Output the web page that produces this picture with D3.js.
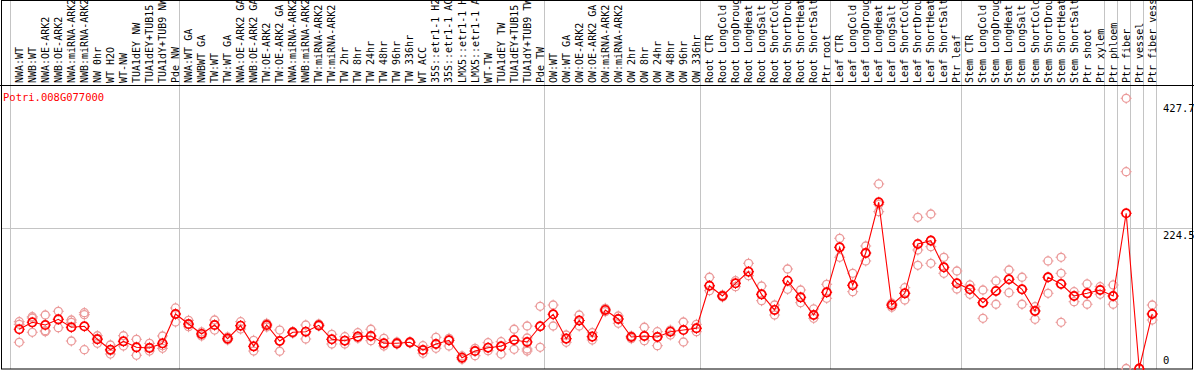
<!DOCTYPE html>
<html>
<head>
<meta charset="utf-8">
<script src="https://cdn.jsdelivr.net/npm/d3@7"></script>
<style>
  body { margin: 0; background: #fff; }
  svg { display: block; }
  text { font-family: "DejaVu Sans Mono", monospace; font-size: 10px; }
</style>
</head>
<body>
<svg id="chart" width="1194" height="370"></svg>
<script>
// sample labels as printed (truncated to 14 chars in the header)
const labels = [
  'NWA:WT', 'NWB:WT', 'NWA:OE-ARK2', 'NWB:OE-ARK2', 'NWA:miRNA-ARK2', 'NWB:miRNA-ARK2',
  'NW 0hr', 'WT H2O', 'WT-NW', 'TUA1dEY NW', 'TUA1dEY+TUB15', 'TUA1dY+TUB9 NW', 'Pde NW',
  'NWA:WT GA', 'NWBWT GA', 'TW:WT', 'TW:WT GA', 'NWA:OE-ARK2 GA', 'NWB:OE-ARK2 GA',
  'TW:OE-ARK2', 'TW:OE-ARK2 GA', 'NWA:miRNA-ARK2', 'NWB:miRNA-ARK2', 'TW:miRNA-ARK2',
  'TW:miRNA-ARK2', 'TW 2hr', 'TW 8hr', 'TW 24hr', 'TW 48hr', 'TW 96hr', 'TW 336hr',
  'WT ACC', '35S::etr1-1 H2', '35S::etr1-1 AC', 'LMX5::etr1-1 H', 'LMX5::etr1-1 A',
  'WT-TW', 'TUA1dEY TW', 'TUA1dEY+TUB15', 'TUA1dY+TUB9 TW', 'Pde TW',
  'OW:WT', 'OW:WT GA', 'OW:OE-ARK2', 'OW:OE-ARK2 GA', 'OW:miRNA-ARK2', 'OW:miRNA-ARK2',
  'OW 2hr', 'OW 8hr', 'OW 24hr', 'OW 48hr', 'OW 96hr', 'OW 336hr',
  'Root CTR', 'Root LongCold', 'Root LongDroug', 'Root LongHeat', 'Root LongSalt',
  'Root ShortCold', 'Root ShortDrou', 'Root ShortHeat', 'Root ShortSalt', 'Ptr root',
  'Leaf CTR', 'Leaf LongCold', 'Leaf LongDroug', 'Leaf LongHeat', 'Leaf LongSalt',
  'Leaf ShortCold', 'Leaf ShortDrou', 'Leaf ShortHeat', 'Leaf ShortSalt', 'Ptr leaf',
  'Stem CTR', 'Stem LongCold', 'Stem LongDroug', 'Stem LongHeat', 'Stem LongSalt',
  'Stem ShortCold', 'Stem ShortDrou', 'Stem ShortHeat', 'Stem ShortSalt', 'Ptr shoot',
  'Ptr xylem', 'Ptr phloem', 'Ptr fiber', 'Ptr vessel', 'Ptr fiber vess',
];

// number of samples in each experiment block (separated by grey lines)
const groupSizes = [13, 28, 12, 10, 10, 11, 1, 1, 1, 1];

const means = [
  62.6, 73.7, 69.4, 78.5, 65.8, 67.4, 46.6, 30.0, 43.4, 33.8, 32.7, 40.2, 87.0,
  71.0, 55.1, 69.4, 47.6, 68.3, 35.4, 69.4, 43.9, 57.8, 58.7, 68.9, 46.6, 44.4,
  50.8, 51.9, 40.2, 40.2, 41.8, 29.5, 39.1, 45.0, 17.2, 27.9, 33.2, 35.4, 45.5, 42.3, 67.4,
  86.5, 47.6, 76.6, 50.8, 93.4, 79.0, 50.3, 51.9, 50.3, 58.7, 61.4, 64.2,
  132.1, 115.7, 136.0, 154.5, 118.4, 93.4, 140.1, 113.6, 85.4, 121.6,
  193.4, 132.8, 184.3, 265.3, 101.3, 120.0, 198.7, 204.0, 161.5, 136.0,
  126.4, 105.0, 123.7, 142.4, 126.4, 91.8, 145.6, 134.9, 115.7, 120.0, 125.3,
  115.7, 247.7, 0, 87.0,
];

const replicates = [
  [74.7, 70.5, 41.8], [82.7, 80.6, 57.8], [85.4, 60.3, 58.7], [91.3, 78.5, 65.1],
  [77.4, 73.7, 43.9], [89.1, 85.9, 30.0], [52.3, 48.2, 40.2], [37.5, 28.4, 23.1],
  [52.3, 43.4, 35.9], [46.6, 33.8, 21.1], [40.2, 33.8, 27.9], [51.9, 36.4, 32.2],
  [96.6, 87.0, 74.2],
  [76.9, 69.9, 66.7], [58.3, 55.1, 51.9], [77.4, 69.4, 61.4], [50.3, 47.1, 45.5],
  [74.7, 68.3, 63.0], [45.0, 35.4, 27.9], [72.1, 69.4, 66.2], [61.4, 43.9, 27.5],
  [58.7, 58.3, 56.2], [69.4, 58.7, 47.1], [71.0, 68.9, 67.8], [54.6, 46.6, 39.1],
  [50.8, 44.4, 39.1], [57.1, 50.8, 48.2], [62.6, 51.9, 44.4], [48.2, 40.2, 35.9],
  [42.3, 39.1, 39.3], [42.3, 41.8, 40.7], [36.4, 29.5, 24.3], [49.8, 39.1, 32.2],
  [48.2, 45.0, 35.9], [20.0, 17.2, 14.7], [32.2, 27.9, 20.4], [41.2, 33.2, 28.4],
  [42.8, 35.4, 23.1], [62.6, 45.5, 30.6], [67.8, 48.7, 31.1, 27.9], [99.3, 67.4, 33.8],
  [101.3, 86.5, 67.8], [53.5, 47.6, 41.8], [85.4, 76.6, 67.8], [57.1, 50.8, 45.5],
  [96.1, 93.4, 90.7], [83.8, 79.0, 72.1], [51.9, 50.8, 47.6], [65.8, 51.9, 44.4],
  [58.7, 50.8, 36.4], [61.4, 58.7, 53.5], [74.2, 61.4, 42.3], [70.5, 64.2, 58.7],
  [145.6, 132.1, 124.2], [117.3, 115.7, 114.1], [140.1, 136.0, 130.6], [167.9, 154.5, 148.1],
  [131.7, 118.4, 108.2], [101.3, 93.4, 85.4], [158.8, 140.1, 126.4], [125.3, 113.6, 105.0],
  [95.0, 85.4, 80.1], [134.4, 121.6, 112.0],
  [207.8, 193.4, 177.5], [151.9, 132.8, 122.6], [195.5, 184.3, 171.6], [294.5, 262.0, 250.3],
  [104.1, 101.3, 97.7], [129.0, 120.0, 109.3], [241.3, 198.7, 189.1, 164.7],
  [246.6, 204.0, 194.4, 167.9], [177.5, 161.5, 151.9], [155.6, 136.0, 126.9],
  [133.3, 126.4, 118.4], [125.3, 105.0, 80.1], [139.7, 123.7, 102.5], [157.2, 142.4, 121.0],
  [145.6, 126.4, 102.5], [98.6, 91.8, 78.5], [171.6, 145.6, 120.0], [177.5, 151.9, 134.9, 73.7],
  [122.6, 115.7, 106.6], [134.9, 120.0, 102.5], [130.6, 125.3, 118.4],
  [133.3, 115.7, 102.5], [431.2, 314.1, 0], [0, 0, 0], [101.3, 87.0, 77.4],
];

const yTicks = [0, 224.5, 427.7];
const geneId = 'Potri.008G077000';

const width = 1194;
const headerH = 85;
const plotLeft = 10;
const plotRight = 1156;
const frameRight = 1192.5;
const bottom = 369;

const svg = d3.select('#chart');

const x = d3
  .scaleBand()
  .domain(d3.range(labels.length))
  .range([plotLeft, plotRight]);
const px = (i) => x(i) + x.bandwidth() * 0.71;

const y = d3
  .scaleLinear()
  .domain([0, 427.7])
  .range([368.5, 100.5]);

// group separators
const starts = d3.cumsum([0, ...groupSizes]);
svg
  .append('g')
  .selectAll('line')
  .data(starts)
  .join('line')
  .attr('x1', (s) => Math.round(s < labels.length ? x(s) : plotRight) + 0.5)
  .attr('x2', (s) => Math.round(s < labels.length ? x(s) : plotRight) + 0.5)
  .attr('y1', 0)
  .attr('y2', bottom)
  .attr('stroke', '#c4c4c4');

// horizontal reference line
svg
  .append('line')
  .attr('x1', 1)
  .attr('x2', frameRight)
  .attr('y1', Math.round(y(224.5)) + 0.5)
  .attr('y2', Math.round(y(224.5)) + 0.5)
  .attr('stroke', '#c4c4c4');

// frame
const frame = svg.append('g').attr('stroke', '#000').attr('fill', 'none');
frame.append('rect').attr('x', 1.5).attr('y', 0.5).attr('width', frameRight - 1.5).attr('height', bottom - 0.5);
frame.append('line').attr('x1', 0).attr('x2', width).attr('y1', headerH + 0.5).attr('y2', headerH + 0.5);

// header labels
svg
  .append('g')
  .selectAll('text')
  .data(labels)
  .join('text')
  .attr('transform', (d, i) => `translate(${px(i) + 3.5},${headerH - 2}) rotate(-90)`)
  .attr('fill', '#000')
  .text((d) => d);

svg
  .append('text')
  .attr('x', 3)
  .attr('y', 101)
  .attr('fill', '#f00')
  .style('font-size', '10.5px')
  .text(geneId);

// value axis on the right
const axis = svg
  .append('g')
  .attr('transform', `translate(${plotRight + 4},0)`)
  .call(d3.axisRight(y).tickValues(yTicks).tickSize(0).tickPadding(3).tickFormat((d) => d));
axis.select('.domain').remove();
axis
  .selectAll('text')
  .attr('fill', '#000')
  .style('font-family', '"DejaVu Sans Mono", monospace')
  .style('font-size', '10.5px')
  .attr('dy', (d) => (d === 0 ? '-0.45em' : '1.0em'));

const marker = 'M0,-5.5V-4M0,4V5.5M-5.5,0H-4M4,0H5.5';

// replicates
const reps = replicates.flatMap((vals, i) => vals.map((v) => ({ i, v })));
const repG = svg
  .append('g')
  .selectAll('g')
  .data(reps)
  .join('g')
  .attr('transform', (d) => `translate(${px(d.i)},${y(d.v)})`)
  .attr('stroke', '#eb9a9a')
  .attr('fill', 'none')
  .attr('stroke-width', 1.3);
repG.append('circle').attr('r', 4);
repG.append('path').attr('d', marker).attr('stroke-width', 1);

// mean line
svg
  .append('path')
  .datum(means)
  .attr('fill', 'none')
  .attr('stroke', '#f00')
  .attr('stroke-width', 1.1)
  .attr('d', d3.line().x((d, i) => px(i)).y((d) => y(d)));

const meanG = svg
  .append('g')
  .selectAll('g')
  .data(means)
  .join('g')
  .attr('transform', (d, i) => `translate(${px(i)},${y(d)})`)
  .attr('stroke', '#f00')
  .attr('fill', 'none')
  .attr('stroke-width', 1.7);
meanG.append('circle').attr('r', 4.2);
meanG.append('path').attr('d', marker).attr('stroke-width', 1);
</script>
</body>
</html>
